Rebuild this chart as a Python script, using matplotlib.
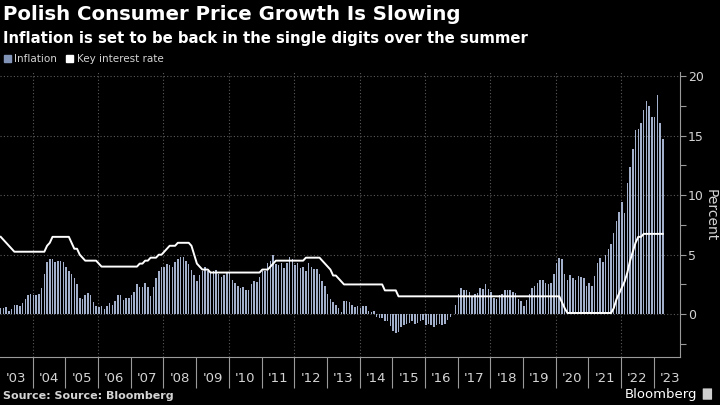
import numpy as np
import matplotlib
matplotlib.use("Agg")
import matplotlib.pyplot as plt
from matplotlib.patches import Patch, FancyBboxPatch

# monthly, Jan 2003 .. Apr 2023
start_year = 2003
inflation = [
    0.5, 0.5, 0.6, 0.3, 0.4, 0.8, 0.8, 0.7, 0.9, 1.3, 1.6, 1.7,   # 2003
    1.6, 1.6, 1.7, 2.2, 3.4, 4.4, 4.6, 4.6, 4.4, 4.5, 4.5, 4.4,   # 2004
    4.0, 3.6, 3.4, 3.0, 2.5, 1.4, 1.3, 1.6, 1.8, 1.6, 1.0, 0.7,   # 2005
    0.6, 0.7, 0.4, 0.7, 0.9, 0.8, 1.1, 1.6, 1.6, 1.2, 1.4, 1.4,   # 2006
    1.6, 1.9, 2.5, 2.3, 2.3, 2.6, 2.3, 1.5, 2.3, 3.0, 3.6, 4.0,   # 2007
    4.0, 4.2, 4.1, 4.0, 4.4, 4.6, 4.8, 4.8, 4.5, 4.2, 3.7, 3.3,   # 2008
    2.8, 3.3, 3.6, 4.0, 3.6, 3.5, 3.6, 3.7, 3.4, 3.1, 3.3, 3.5,   # 2009
    3.5, 2.9, 2.6, 2.4, 2.2, 2.3, 2.0, 2.0, 2.5, 2.8, 2.7, 3.1,   # 2010
    3.6, 3.6, 4.3, 4.5, 5.0, 4.2, 4.1, 4.3, 3.9, 4.3, 4.8, 4.6,   # 2011
    4.1, 4.3, 3.9, 4.0, 3.6, 4.3, 4.0, 3.8, 3.8, 3.4, 2.8, 2.4,   # 2012
    1.7, 1.3, 1.0, 0.8, 0.5, 0.2, 1.1, 1.1, 1.0, 0.8, 0.6, 0.7,   # 2013
    0.5, 0.7, 0.7, 0.3, 0.2, 0.3, -0.2, -0.3, -0.3, -0.6, -0.6, -1.0,   # 2014
    -1.4, -1.6, -1.5, -1.1, -0.9, -0.8, -0.7, -0.6, -0.8, -0.7, -0.6, -0.5,   # 2015
    -0.9, -0.8, -0.9, -1.1, -0.9, -0.8, -0.9, -0.8, -0.5, -0.2, 0.0, 0.8,   # 2016
    1.7, 2.2, 2.0, 2.0, 1.9, 1.5, 1.7, 1.8, 2.2, 2.1, 2.5, 2.1,   # 2017
    1.9, 1.4, 1.3, 1.6, 1.7, 2.0, 2.0, 2.0, 1.9, 1.8, 1.3, 1.1,   # 2018
    0.7, 1.2, 1.7, 2.2, 2.4, 2.6, 2.9, 2.9, 2.6, 2.5, 2.6, 3.4,   # 2019
    4.3, 4.7, 4.6, 3.4, 2.9, 3.3, 3.0, 2.9, 3.2, 3.1, 3.0, 2.4,   # 2020
    2.6, 2.4, 3.2, 4.3, 4.7, 4.4, 5.0, 5.5, 5.9, 6.8, 7.8, 8.6,   # 2021
    9.4, 8.5, 11.0, 12.4, 13.9, 15.5, 15.6, 16.1, 17.2, 17.9, 17.5, 16.6,   # 2022
    16.6, 18.4, 16.1, 14.7,   # 2023
]
key_rate = [
    6.50, 6.25, 6.00, 5.75, 5.50, 5.25, 5.25, 5.25, 5.25, 5.25, 5.25, 5.25,   # 2003
    5.25, 5.25, 5.25, 5.25, 5.25, 5.75, 6.00, 6.50, 6.50, 6.50, 6.50, 6.50,   # 2004
    6.50, 6.50, 6.00, 5.50, 5.50, 5.00, 4.75, 4.50, 4.50, 4.50, 4.50, 4.50,   # 2005
    4.25, 4.00, 4.00, 4.00, 4.00, 4.00, 4.00, 4.00, 4.00, 4.00, 4.00, 4.00,   # 2006
    4.00, 4.00, 4.00, 4.25, 4.25, 4.50, 4.50, 4.75, 4.75, 4.75, 5.00, 5.00,   # 2007
    5.25, 5.50, 5.75, 5.75, 5.75, 6.00, 6.00, 6.00, 6.00, 6.00, 5.75, 5.00,   # 2008
    4.25, 4.00, 3.75, 3.75, 3.75, 3.50, 3.50, 3.50, 3.50, 3.50, 3.50, 3.50,   # 2009
    3.50, 3.50, 3.50, 3.50, 3.50, 3.50, 3.50, 3.50, 3.50, 3.50, 3.50, 3.50,   # 2010
    3.75, 3.75, 3.75, 4.00, 4.25, 4.50, 4.50, 4.50, 4.50, 4.50, 4.50, 4.50,   # 2011
    4.50, 4.50, 4.50, 4.50, 4.75, 4.75, 4.75, 4.75, 4.75, 4.75, 4.50, 4.25,   # 2012
    4.00, 3.75, 3.25, 3.25, 3.00, 2.75, 2.50, 2.50, 2.50, 2.50, 2.50, 2.50,   # 2013
    2.50, 2.50, 2.50, 2.50, 2.50, 2.50, 2.50, 2.50, 2.50, 2.00, 2.00, 2.00,   # 2014
    2.00, 2.00, 1.50, 1.50, 1.50, 1.50, 1.50, 1.50, 1.50, 1.50, 1.50, 1.50,   # 2015
    1.50, 1.50, 1.50, 1.50, 1.50, 1.50, 1.50, 1.50, 1.50, 1.50, 1.50, 1.50,   # 2016
    1.50, 1.50, 1.50, 1.50, 1.50, 1.50, 1.50, 1.50, 1.50, 1.50, 1.50, 1.50,   # 2017
    1.50, 1.50, 1.50, 1.50, 1.50, 1.50, 1.50, 1.50, 1.50, 1.50, 1.50, 1.50,   # 2018
    1.50, 1.50, 1.50, 1.50, 1.50, 1.50, 1.50, 1.50, 1.50, 1.50, 1.50, 1.50,   # 2019
    1.50, 1.50, 1.00, 0.50, 0.10, 0.10, 0.10, 0.10, 0.10, 0.10, 0.10, 0.10,   # 2020
    0.10, 0.10, 0.10, 0.10, 0.10, 0.10, 0.10, 0.10, 0.10, 0.50, 1.25, 1.75,   # 2021
    2.25, 2.75, 3.50, 4.50, 5.25, 6.00, 6.50, 6.50, 6.75, 6.75, 6.75, 6.75,   # 2022
    6.75, 6.75, 6.75, 6.75,   # 2023
]
year_labels = ["'%02d" % (y % 100) for y in range(2003, 2024)]

bar_color = '#a3b0cc'
grid_color = '#5a5a5a'
axis_color = '#9a9a9a'
text_color = '#d4d4d4'

t = start_year + np.arange(len(inflation)) / 12.0

fig = plt.figure(figsize=(7.2, 4.05), dpi=100, facecolor='black')
ax = fig.add_axes([0.0, 0.1185, 0.944, 0.7035], facecolor='black')

ax.bar(t, inflation, width=0.55 / 12, color=bar_color, align='edge', zorder=2)
ax.plot(t + 0.275 / 12, key_rate, color='white', lw=1.4, zorder=3)

ax.set_xlim(2003.0, 2023.79)
ax.set_ylim(-3.6, 20.35)

# y axis on the right
ax.yaxis.tick_right()
ax.set_yticks([0, 5, 10, 15, 20])
ax.set_yticks(np.arange(-2.5, 20, 5), minor=True)
ax.tick_params(axis='y', which='both', colors=axis_color, labelcolor=text_color,
               labelsize=9, length=4, width=0.8, pad=2)
fig.text(711 / 720, 1 - 215 / 405, 'Percent', color=text_color, fontsize=10,
         rotation=270, ha='center', va='center')

# x axis: separators at year boundaries, labels in the middle
ax.set_xticks(range(2004, 2024))
ax.set_xticklabels([])
ax.set_xticks(np.arange(2003, 2024) + 0.5, minor=True)
ax.set_xticklabels(year_labels, minor=True)
ax.tick_params(axis='x', which='major', colors=axis_color, length=22, width=0.8, direction='out')
ax.tick_params(axis='x', which='minor', length=0, labelcolor=text_color, labelsize=9.5, pad=11)

for s in ['top', 'left']:
    ax.spines[s].set_visible(False)
for s in ['right', 'bottom']:
    ax.spines[s].set_color(axis_color)
    ax.spines[s].set_linewidth(0.8)

# dotted grid
for y in [0, 5, 10, 15, 20]:
    ax.axhline(y, color=grid_color, lw=0.8, ls=(0, (1, 2)), zorder=1)
for x in range(2004, 2024, 2):
    ax.axvline(x, color=grid_color, lw=0.8, ls=(0, (1, 2)), zorder=1)

fig.text(0.004, 0.963, 'Polish Consumer Price Growth Is Slowing', color='white',
         fontsize=14.2, fontweight='bold', va='center', ha='left')
fig.text(0.004, 0.906, 'Inflation is set to be back in the single digits over the summer',
         color='white', fontsize=10.7, fontweight='bold', va='center', ha='left')

handles = [Patch(color='#8194b8'), Patch(color='white')]
leg = fig.legend(handles, ['Inflation', 'Key interest rate'], loc='center left',
                 bbox_to_anchor=(0.002, 1 - 59 / 405), ncol=2, frameon=False,
                 fontsize=7.5, handlelength=0.7, handleheight=0.7, handletextpad=0.3,
                 columnspacing=0.9, borderaxespad=0, borderpad=0.2)
for txt in leg.get_texts():
    txt.set_color(text_color)

fig.text(0.004, 0.022, 'Source: Source: Bloomberg', color=text_color, fontsize=8,
         fontweight='bold', va='center', ha='left')
fig.text(0.969, 0.027, 'Bloomberg', color='white', fontsize=9.5, va='center', ha='right')
fig.patches.append(FancyBboxPatch((0.977, 0.014), 0.011, 0.026, boxstyle='round,pad=0.001',
                                  transform=fig.transFigure, facecolor='#cfcfcf',
                                  edgecolor='none'))

fig.savefig('out.png', dpi=100, facecolor='black')
